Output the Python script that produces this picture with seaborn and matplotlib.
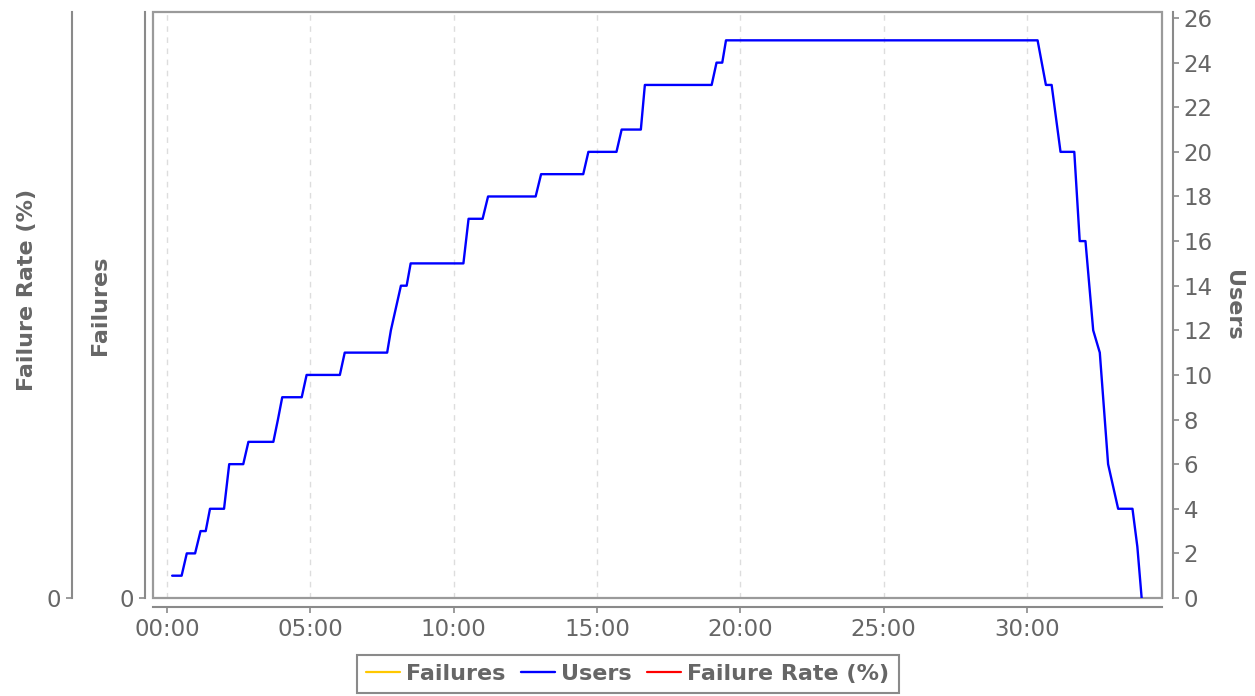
import numpy as np
import pandas as pd
import seaborn as sns
import matplotlib.pyplot as plt
from matplotlib.ticker import FuncFormatter
from matplotlib.patches import Rectangle

# elapsed time (minutes) and active users
elapsed_min = [0.18, 0.51, 0.69, 0.98, 1.17, 1.35, 1.50, 1.99, 2.17, 2.66,
               2.84, 3.71, 3.87, 4.02, 4.70, 4.87, 6.03, 6.20, 7.68, 7.81,
               8.16, 8.36, 8.50, 10.34, 10.52, 11.01, 11.20, 12.86, 13.05, 14.52,
               14.70, 15.68, 15.86, 16.53, 16.67, 19.00, 19.17, 19.37, 19.50, 30.37,
               30.66, 30.86, 31.17, 31.65, 31.84, 32.04, 32.31, 32.54, 32.83, 33.18,
               33.68, 33.85, 34.00]
users = [1, 1, 2, 2, 3, 3, 4, 4, 6, 6,
         7, 7, 8, 9, 9, 10, 10, 11, 11, 12,
         14, 14, 15, 15, 17, 17, 18, 18, 19, 19,
         20, 20, 21, 21, 23, 23, 24, 24, 25, 25,
         23, 23, 20, 20, 16, 16, 12, 11, 6, 4,
         4, 2.3, 0]

# no failures were recorded
failure_min = []
failures = []
failure_rate = []

x_ticks_min = [0, 5, 10, 15, 20, 25, 30]
user_ticks = list(range(0, 27, 2))

sns.set_style('white')
plt.rcParams['font.family'] = ['DejaVu Sans']

axis_col = '#8a8a8a'
text_col = '#666666'
px = 0.72  # points per pixel at dpi 100

df = pd.DataFrame({'sec': np.array(elapsed_min) * 60, 'users': users})

fig = plt.figure(figsize=(12.55, 6.96), dpi=100)
ax = fig.add_axes([153 / 1255, 98 / 696, 1009 / 1255, 586 / 696])
ax2 = ax.twinx()
ax3 = ax.twinx()

# plot frame
ax.add_patch(Rectangle((0, 0), 1, 1, transform=ax.transAxes, fill=False,
                       edgecolor='#9a9a9a', lw=1.6, clip_on=False, zorder=5))

# failures (left inner axis)
h_fail, = ax.plot(np.array(failure_min) * 60, failures, color='#ffc800', lw=1.6)
ax.set_ylim(0, 1)
ax.set_yticks([0])
ax.set_xlim(-29.3, 2082.6)
ax.set_xticks([m * 60 for m in x_ticks_min])
ax.xaxis.set_major_formatter(FuncFormatter(lambda v, p: f'{int(v // 60):02d}:{int(v % 60):02d}'))
ax.grid(axis='x', color='#dddddd', linestyle=(0, (4, 4)), lw=1)
for s in ['top', 'right']:
    ax.spines[s].set_visible(False)
ax.spines['left'].set_position(('outward', 8 * px))
ax.spines['bottom'].set_position(('outward', 9 * px))
ax.set_ylabel('Failures', fontsize=16, fontweight='bold', color=text_col, labelpad=7)

# users (right axis)
sns.lineplot(data=df, x='sec', y='users', ax=ax2, color='#0000ff', lw=1.7, estimator=None)
ax2.set_ylim(0, 26.27)
ax2.set_yticks(user_ticks)
for s in ['top', 'left', 'bottom']:
    ax2.spines[s].set_visible(False)
ax2.spines['right'].set_position(('outward', 10.5 * px))
ax2.set_xlabel('')
ax2.set_ylabel('Users', fontsize=16, fontweight='bold', color=text_col,
               rotation=270, labelpad=22)
h_users = ax2.get_lines()[0]

# failure rate (left outer axis)
h_rate, = ax3.plot(np.array(failure_min) * 60, failure_rate, color='#ff0000', lw=1.6)
ax3.set_ylim(0, 1)
ax3.set_yticks([0])
ax3.yaxis.tick_left()
ax3.yaxis.set_label_position('left')
for s in ['top', 'right', 'bottom']:
    ax3.spines[s].set_visible(False)
ax3.spines['left'].set_visible(True)
ax3.spines['left'].set_position(('outward', 80.6 * px))
ax3.set_ylabel('Failure Rate (%)', fontsize=16, fontweight='bold', color=text_col, labelpad=7)
ax3.yaxis.label.set_y(0.525)

for a in (ax, ax2, ax3):
    for s in a.spines.values():
        s.set_color(axis_col)
        s.set_linewidth(1.5)
    a.tick_params(axis='both', colors=axis_col, labelcolor=text_col, labelsize=16.5,
                  length=4.5, width=1.2, pad=3.5, direction='out')
ax.tick_params(axis='y', left=True)
ax.tick_params(axis='x', bottom=True)
ax2.tick_params(axis='y', right=True)
ax3.tick_params(axis='y', left=True)

fig.legend([h_fail, h_users, h_rate], ['Failures', 'Users', 'Failure Rate (%)'],
           loc='upper center', bbox_to_anchor=(628 / 1255, 1 - 655 / 696), ncol=3,
           frameon=True, fancybox=False, edgecolor=axis_col, framealpha=1,
           prop={'size': 16, 'weight': 'bold'}, labelcolor=text_col, borderaxespad=0,
           handlelength=1.5, handletextpad=0.3, columnspacing=0.7, borderpad=0.4)
fig.legends[0].get_frame().set_linewidth(1.5)

fig.savefig('out.png', dpi=100)
